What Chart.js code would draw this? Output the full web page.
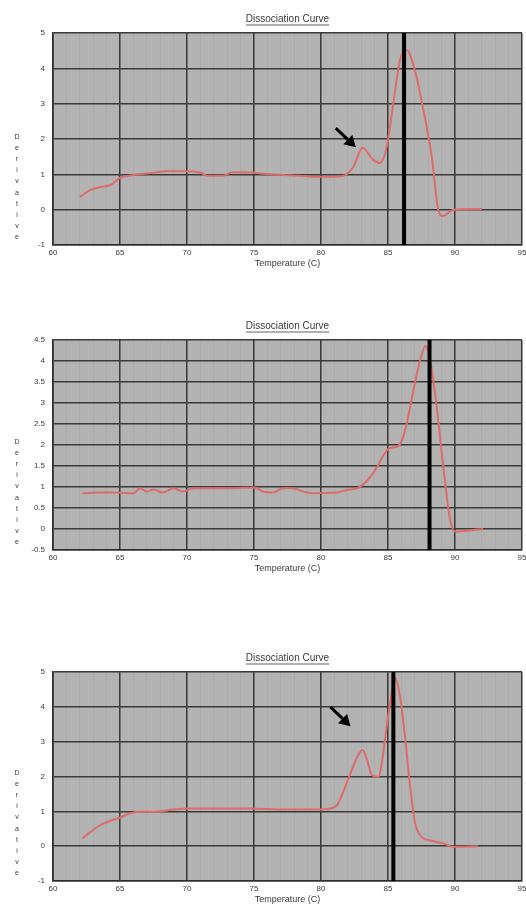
<!DOCTYPE html>
<html><head><meta charset="utf-8">
<script src="https://cdn.jsdelivr.net/npm/chart.js@4.4.0/dist/chart.umd.min.js"></script>
<style>
html,body{margin:0;padding:0;background:#fff;width:526px;height:905px;overflow:hidden;}
.p{position:absolute;left:0;width:526px;}
</style></head><body>
<div class="p" style="top:0;height:272px"><canvas id="c1"></canvas></div>
<div class="p" style="top:307px;height:270px"><canvas id="c2"></canvas></div>
<div class="p" style="top:639px;height:269px"><canvas id="c3"></canvas></div>
<script>
const chartTitle = "Dissociation Curve";
const xAxisTitle = "Temperature (C)";
const yAxisTitle = "Derivative";
const xTicks = [60, 65, 70, 75, 80, 85, 90, 95];

// Panel 1
const temps1 = [62.0,62.8,63.5,64.3,65.0,66.0,67.2,68.5,69.7,71.0,71.5,72.7,73.4,74.7,76.0,77.2,78.4,79.7,80.9,81.6,82.4,83.1,83.9,84.4,84.9,85.4,85.9,86.4,87.0,87.6,88.3,88.7,89.1,89.9,92.0];
const deriv1 = [0.36,0.56,0.64,0.70,0.90,0.98,1.03,1.09,1.09,1.05,0.96,0.96,1.06,1.05,1.01,0.98,0.96,0.93,0.93,0.95,1.20,1.75,1.41,1.32,1.77,3.02,4.24,4.52,3.95,2.90,1.41,0.08,-0.18,0.00,0.02];
const yTicks1 = [-1, 0, 1, 2, 3, 4, 5];
const cursor1 = 86.2;
const arrow1 = {tail: [81.1, 2.31], tip: [82.6, 1.77]};

// Panel 2
const temps2 = [62.2,63.5,64.8,66.0,66.5,67.0,67.5,68.2,69.0,69.7,70.5,72.2,73.4,75.0,75.7,76.4,77.2,77.9,78.7,79.4,80.4,81.2,81.9,82.7,83.1,83.7,84.2,84.6,85.1,85.7,86.0,86.4,86.9,87.4,87.8,88.1,88.6,89.1,89.6,90.0,90.9,92.1];
const deriv2 = [0.85,0.87,0.87,0.85,0.97,0.89,0.94,0.87,0.97,0.89,0.97,0.97,0.97,0.99,0.89,0.87,0.97,0.97,0.89,0.85,0.86,0.87,0.93,0.97,1.05,1.25,1.48,1.72,1.92,1.96,2.08,2.52,3.31,4.02,4.36,4.10,3.00,1.56,0.29,-0.06,-0.04,0.00];
const yTicks2 = [-0.5, 0, 0.5, 1, 1.5, 2, 2.5, 3, 3.5, 4, 4.5];
const cursor2 = 88.1;

// Panel 3
const temps3 = [62.2,62.8,63.5,64.3,65.0,65.7,66.5,67.7,69.0,70.0,72.2,74.7,77.2,79.7,80.7,81.2,81.6,82.2,82.7,83.1,83.4,83.8,84.3,84.6,85.0,85.4,85.5,85.9,86.3,86.6,87.0,87.5,88.1,89.1,89.9,91.7];
const deriv3 = [0.22,0.41,0.60,0.73,0.82,0.94,0.99,0.99,1.05,1.08,1.08,1.08,1.05,1.05,1.08,1.18,1.51,2.09,2.56,2.76,2.52,2.04,1.99,2.56,3.71,4.67,4.86,4.29,3.04,1.89,0.70,0.27,0.17,0.08,-0.02,0.00];
const yTicks3 = [-1, 0, 1, 2, 3, 4, 5];
const cursor3 = 85.4;
const arrow3 = {tail: [80.7, 4.0], tip: [82.2, 3.44]};

const FONT = 'Liberation Sans, Arial, sans-serif';
const TXT = '#3a3a3a';
const TITLE_SIZE = 10;

const decoPlugin = {
  id: 'deco',
  beforeDraw(chart) {
    const a = chart.chartArea, ctx = chart.ctx;
    ctx.save();
    ctx.fillStyle = '#b3b3b3';
    ctx.fillRect(a.left, a.top, a.right - a.left, a.bottom - a.top);
    ctx.restore();
  },
  afterDraw(chart, args, opts) {
    const a = chart.chartArea, ctx = chart.ctx;
    ctx.save();
    // title underline
    const tb = chart.titleBlock;
    if (tb) {
      ctx.font = TITLE_SIZE + 'px ' + FONT;
      const w = ctx.measureText(chartTitle).width;
      const cx = (tb.left + tb.right) / 2;
      const cy = tb.top + tb.options.padding.top + TITLE_SIZE * 0.6;
      ctx.strokeStyle = TXT; ctx.lineWidth = 0.8;
      ctx.beginPath(); ctx.moveTo(cx - w / 2, cy + 6); ctx.lineTo(cx + w / 2, cy + 6); ctx.stroke();
    }
    // stacked y title
    ctx.fillStyle = TXT;
    ctx.font = '7px ' + FONT;
    ctx.textAlign = 'center'; ctx.textBaseline = 'middle';
    const letters = yAxisTitle.split('');
    letters.forEach((ch, i) => {
      const y = a.bottom - 8 - (letters.length - 1 - i) * 11.1;
      ctx.fillText(ch, 17, y);
    });
    // arrow
    if (opts.arrow) {
      const xs = chart.scales.x, ys = chart.scales.y;
      const x0 = xs.getPixelForValue(opts.arrow.tail[0]), y0 = ys.getPixelForValue(opts.arrow.tail[1]);
      const x1 = xs.getPixelForValue(opts.arrow.tip[0]), y1 = ys.getPixelForValue(opts.arrow.tip[1]);
      const ang = Math.atan2(y1 - y0, x1 - x0);
      const hl = 11, hw = 6.5;
      const bx = x1 - hl * Math.cos(ang), by = y1 - hl * Math.sin(ang);
      ctx.strokeStyle = '#000'; ctx.fillStyle = '#000'; ctx.lineWidth = 3;
      ctx.beginPath(); ctx.moveTo(x0, y0); ctx.lineTo(bx, by); ctx.stroke();
      ctx.beginPath();
      ctx.moveTo(x1, y1);
      ctx.lineTo(bx + hw * Math.sin(ang), by - hw * Math.cos(ang));
      ctx.lineTo(bx - hw * Math.sin(ang), by + hw * Math.cos(ang));
      ctx.closePath(); ctx.fill();
    }
    ctx.restore();
  }
};

function makeChart(id, temps, deriv, yTicks, cursor, arrow) {
  const ymin = yTicks[0], ymax = yTicks[yTicks.length - 1];
  return new Chart(document.getElementById(id), {
    type: 'line',
    data: {
      datasets: [
        { data: [{x: cursor, y: ymin}, {x: cursor, y: ymax}], borderColor: '#000', borderWidth: 4, pointRadius: 0 },
        { data: temps.map((t, i) => ({x: t, y: deriv[i]})), borderColor: '#de6c6c', borderWidth: 2, pointRadius: 0, cubicInterpolationMode: 'monotone' }
      ]
    },
    options: {
      responsive: true, maintainAspectRatio: false, animation: false,
      layout: { padding: { left: 0, right: 4, top: 0, bottom: 0 } },
      plugins: {
        legend: { display: false }, tooltip: { enabled: false },
        title: { display: true, text: chartTitle, fullSize: false, color: TXT,
                 font: { family: FONT, size: TITLE_SIZE, weight: 'normal', lineHeight: 1.2 },
                 padding: { top: 13, bottom: 8 } },
        deco: { arrow: arrow }
      },
      scales: {
        xm: { type: 'linear', min: xTicks[0], max: xTicks[xTicks.length - 1], position: 'bottom',
              ticks: { display: false, stepSize: 1 }, border: { display: false },
              grid: { color: 'rgba(0,0,0,0.035)', lineWidth: 1, drawTicks: false },
              afterFit(s) { s.height = 0; s.paddingLeft = 0; s.paddingRight = 0; } },
        x: { type: 'linear', min: xTicks[0], max: xTicks[xTicks.length - 1], position: 'bottom',
             afterBuildTicks(s) { s.ticks = xTicks.map(v => ({value: v})); },
             ticks: { color: TXT, font: { family: FONT, size: 8 }, padding: 3, maxRotation: 0,
                      callback: v => String(v) },
             border: { color: '#2e2e2e', width: 1.6 },
             grid: { color: '#3a3a3a', lineWidth: 1.5, drawTicks: false },
             title: { display: true, text: xAxisTitle, color: TXT, font: { family: FONT, size: 9 }, padding: { top: 0, bottom: 3 } },
             afterFit(s) { s.height = 27; s.paddingLeft = 0; s.paddingRight = 0; } },
        y: { type: 'linear', min: ymin, max: ymax, position: 'left',
             afterBuildTicks(s) { s.ticks = yTicks.map(v => ({value: v})); },
             ticks: { color: TXT, font: { family: FONT, size: 8 }, padding: 8, callback: v => String(v) },
             border: { color: '#2e2e2e', width: 1.6 },
             grid: { color: '#3a3a3a', lineWidth: 1.5, drawTicks: false },
             afterFit(s) { s.width = 53; s.paddingTop = 0; s.paddingBottom = 0; } }
      }
    },
    plugins: [decoPlugin]
  });
}

makeChart('c1', temps1, deriv1, yTicks1, cursor1, arrow1);
makeChart('c2', temps2, deriv2, yTicks2, cursor2, null);
makeChart('c3', temps3, deriv3, yTicks3, cursor3, arrow3);
</script>
</body></html>
